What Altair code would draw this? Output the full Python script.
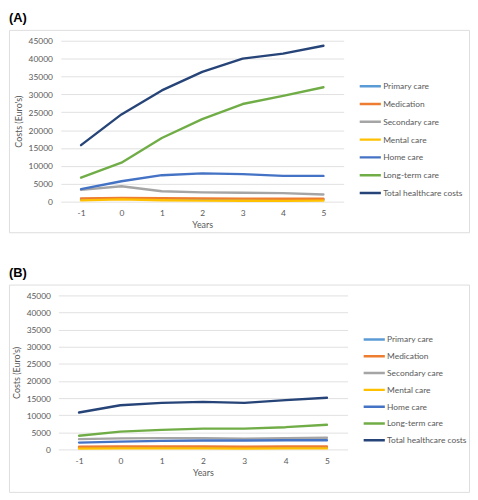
import altair as alt
import pandas as pd

years = [-1, 0, 1, 2, 3, 4, 5]
series = ["Primary care", "Medication", "Secondary care", "Mental care",
          "Home care", "Long-term care", "Total healthcare costs"]
colors = ["#5B9BD5", "#ED7D31", "#A5A5A5", "#FFC000", "#4472C4", "#70AD47", "#264478"]

# Panel A
a_primary = [700, 800, 700, 650, 600, 600, 600]
a_medication = [900, 1050, 950, 900, 850, 800, 800]
a_secondary = [3300, 4300, 2900, 2600, 2500, 2400, 2000]
a_mental = [350, 650, 400, 300, 250, 200, 300]
a_home = [3500, 5700, 7400, 7900, 7700, 7200, 7200]
a_longterm = [6700, 10900, 17800, 23100, 27300, 29600, 32000]
a_total = [15800, 24400, 31100, 36300, 40000, 41400, 43600]

# Panel B
b_primary = [600, 650, 650, 650, 600, 650, 650]
b_medication = [800, 850, 850, 850, 800, 850, 850]
b_secondary = [3000, 3250, 3300, 3300, 3150, 3300, 3400]
b_mental = [250, 300, 300, 300, 250, 300, 300]
b_home = [2000, 2300, 2500, 2600, 2600, 2700, 2700]
b_longterm = [4000, 5200, 5700, 6100, 6100, 6500, 7200]
b_total = [10800, 12900, 13600, 13900, 13600, 14400, 15100]


def make_df(cols):
    rows = []
    for name, vals in zip(series, cols):
        for yr, v in zip(years, vals):
            rows.append({"Year": yr, "Series": name, "Cost": v})
    return pd.DataFrame(rows)


df_a = make_df([a_primary, a_medication, a_secondary, a_mental, a_home, a_longterm, a_total])
df_b = make_df([b_primary, b_medication, b_secondary, b_mental, b_home, b_longterm, b_total])

TXT = "#595959"
FONT = "Lato"


def panel(df, label, box_w, box_h, plot_top, plot_bottom, x_range, y_off,
          legend_x, legend_y, clip_h):
    x = alt.X(
        "Year:O", sort=years,
        scale=alt.Scale(type="point", padding=0.5, range=x_range),
        axis=alt.Axis(title="Years", labelAngle=0, ticks=False, domain=False, grid=False,
                      offset=-(box_h - plot_bottom), labelPadding=7, titlePadding=4,
                      labelFont=FONT, labelFontSize=8.5, labelColor=TXT,
                      titleFont=FONT, titleFontSize=9, titleFontWeight="normal", titleColor=TXT),
    )
    y = alt.Y(
        "Cost:Q",
        scale=alt.Scale(domain=[0, 45000], range=[plot_bottom, plot_top], nice=False, zero=True),
        axis=alt.Axis(title="Costs (Euro's)", values=list(range(0, 45001, 5000)), format="d",
                      ticks=False, domain=False, offset=y_off, labelPadding=4, titlePadding=5,
                      gridColor="#D9D9D9", gridWidth=0.8,
                      labelFont=FONT, labelFontSize=8.5, labelColor=TXT,
                      titleFont=FONT, titleFontSize=9, titleFontWeight="normal", titleColor=TXT),
    )
    color = alt.Color(
        "Series:N",
        scale=alt.Scale(domain=series, range=colors),
        legend=alt.Legend(orient="none", legendX=legend_x, legendY=legend_y, title=None,
                          symbolType="stroke", symbolSize=460, symbolStrokeWidth=2.5,
                          labelFont=FONT, labelFontSize=8.5, labelColor=TXT,
                          labelOffset=1, rowPadding=1, clipHeight=clip_h, padding=0),
    )
    return alt.Chart(df).mark_line(strokeWidth=2.4, strokeJoin="round", strokeCap="round").encode(
        x=x, y=y, color=color, order=alt.Order("Year:O")
    ).properties(
        width=box_w, height=box_h,
        title=alt.TitleParams(label, anchor="start", frame="group", font="Liberation Sans",
                              fontSize=13, fontWeight="bold", color="#000000", offset=5),
    )


pa = panel(df_a, "(A)", 466, 205, 11, 174, [52.5, 339], -48, 354, 49, 16.3)
pb = panel(df_b, "(B)", 466, 210, 11, 167, [50, 343], -46, 358, 48, 15.3)

chart = alt.vconcat(pa, pb, spacing=33).resolve_scale(
    color="independent", x="independent", y="independent"
).resolve_legend(color="independent").properties(
    padding={"left": 0, "top": 0, "right": 0, "bottom": 0}
).configure_view(
    stroke="#D9D9D9", strokeWidth=1
).configure(background="#FFFFFF")

chart.save("out.html", embed_options={"renderer": "svg", "actions": False})
